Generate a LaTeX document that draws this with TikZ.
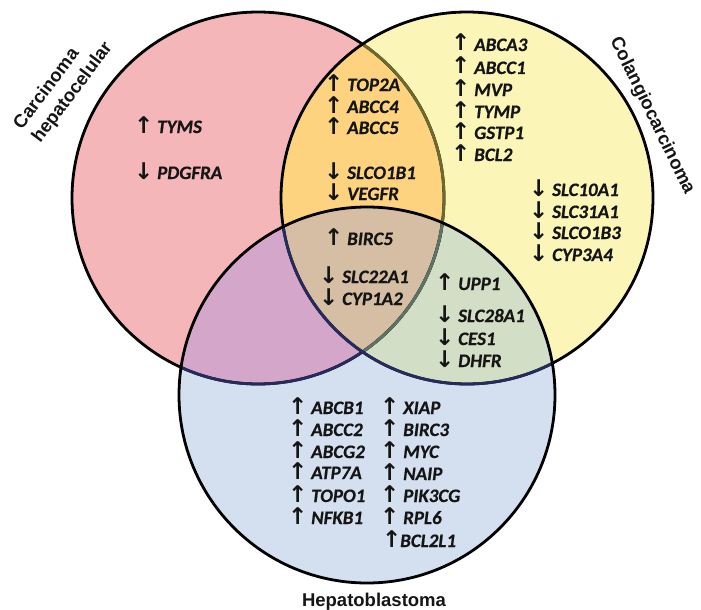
\documentclass[tikz,border=0pt]{standalone}
\usepackage{fontspec}
\setmainfont{Carlito}[BoldItalicFeatures={FakeBold=0.5}]
\newfontfamily\titlefont{Liberation Sans}
\newfontfamily\arrowfont{DejaVu Sans}

\definecolor{fillA}{HTML}{F5B6B9}
\definecolor{fillB}{HTML}{FBF5B7}
\definecolor{fillC}{HTML}{D4DFF0}
\definecolor{fillAB}{HTML}{FDD37F}
\definecolor{fillAC}{HTML}{D3A6CA}
\definecolor{fillBC}{HTML}{D3DEC6}
\definecolor{fillABC}{HTML}{D5BEA3}
\definecolor{lineOlive}{HTML}{6E6A2E}
\definecolor{lineSage}{HTML}{5F7363}
\definecolor{lineNavy}{HTML}{262B5E}
\definecolor{inkc}{HTML}{151515}

% arrow + gene name, fixed arrow column
\newcommand\arrowglyph[1]{\makebox[0pt][l]{\hspace{-4.2pt}{\arrowfont\fontsize{23}{23}\selectfont #1}}}
\newcommand\geneup[2][19pt]{\makebox[#1][l]{\arrowglyph{↑}}\textit{#2}}
\newcommand\genedn[2][19pt]{\makebox[#1][l]{\arrowglyph{↓}}\textit{#2}}

\begin{document}
\begin{tikzpicture}[x=1pt,y=-1pt,
  ring/.style={line width=2.8pt},
  gene/.style={anchor=base west, inner sep=0pt, text=inkc,
    font=\fontsize{19}{21}\selectfont\bfseries\itshape},
  setlabel/.style={inner sep=0pt, text=inkc,
    font=\titlefont\fontsize{18.5}{23}\selectfont\bfseries}]
\useasboundingbox (0,0) rectangle (701,610);

\coordinate (cA) at (258,198);
\coordinate (cB) at (467,198);
\coordinate (cC) at (367,395);

% region fills
\fill[fillA] (cA) circle[radius=186pt];
\fill[fillB] (cB) circle[radius=186pt];
\fill[fillC] (cC) circle[radius=188pt];
\begin{scope}
  \clip (cB) circle[radius=186pt];
  \fill[fillBC] (cC) circle[radius=188pt];
\end{scope}
\begin{scope}
  \clip (cA) circle[radius=186pt];
  \fill[fillAB] (cB) circle[radius=186pt];
  \fill[fillAC] (cC) circle[radius=188pt];
  \clip (cB) circle[radius=186pt];
  \fill[fillABC] (cC) circle[radius=188pt];
\end{scope}

% outlines, tinted where covered by the other sets
\draw[ring] (cA) circle[radius=186pt];
\begin{scope}
  \clip (cB) circle[radius=186pt];
  \draw[ring, lineOlive] (cA) circle[radius=186pt];
\end{scope}
\begin{scope}
  \clip (cC) circle[radius=188pt];
  \draw[ring, lineNavy] (cA) circle[radius=186pt];
\end{scope}
\begin{scope}
  \clip (cB) circle[radius=186pt];
  \clip (cC) circle[radius=188pt];
  \draw[ring, lineSage] (cA) circle[radius=186pt];
\end{scope}
\draw[ring] (cB) circle[radius=186pt];
\begin{scope}
  \clip (cC) circle[radius=188pt];
  \draw[ring, lineNavy] (cB) circle[radius=186pt];
\end{scope}
\draw[ring] (cC) circle[radius=188pt];

% set titles
\node[setlabel, rotate=53, align=left, anchor=north west] (tA) at (11,122) {Carcinoma\\hepatocelular};
\node[setlabel, rotate=-64] (tB) at (652,116) {Colangiocarcinoma};
\node[setlabel, anchor=base] (tC) at (374,606) {Hepatoblastoma};

% hepatocellular carcinoma only
\node[gene] (g01) at (138,133) {\geneup{TYMS}};
\node[gene] (g02) at (138,179) {\genedn{PDGFRA}};

% HCC and cholangiocarcinoma
\node[gene] (g03) at (328,91)  {\geneup{TOP2A}};
\node[gene] (g04) at (328,113) {\geneup{ABCC4}};
\node[gene] (g05) at (328,134) {\geneup{ABCC5}};
\node[gene] (g06) at (328,179) {\genedn{SLCO1B1}};
\node[gene] (g07) at (328,200) {\genedn{VEGFR}};

% cholangiocarcinoma only
\node[gene] (g08) at (455,51)  {\geneup{ABCA3}};
\node[gene] (g09) at (455,74)  {\geneup{ABCC1}};
\node[gene] (g10) at (455,96)  {\geneup{MVP}};
\node[gene] (g11) at (455,118) {\geneup{TYMP}};
\node[gene] (g12) at (455,139) {\geneup{GSTP1}};
\node[gene] (g13) at (455,161) {\geneup{BCL2}};
\node[gene] (g14) at (533,196) {\genedn{SLC10A1}};
\node[gene] (g15) at (533,218) {\genedn{SLC31A1}};
\node[gene] (g16) at (533,239) {\genedn{SLCO1B3}};
\node[gene] (g17) at (533,261) {\genedn{CYP3A4}};

% all three
\node[gene] (g18) at (328,245) {\geneup{BIRC5}};
\node[gene] (g19) at (323,283) {\genedn{SLC22A1}};
\node[gene] (g20) at (323,305) {\genedn{CYP1A2}};

% cholangiocarcinoma and hepatoblastoma
\node[gene] (g21) at (439,290) {\geneup{UPP1}};
\node[gene] (g22) at (439,322) {\genedn{SLC28A1}};
\node[gene] (g23) at (439,345) {\genedn{CES1}};
\node[gene] (g24) at (439,367) {\genedn{DHFR}};

% hepatoblastoma only
\node[gene] (g25) at (292,414) {\geneup{ABCB1}};
\node[gene] (g26) at (292,436) {\geneup{ABCC2}};
\node[gene] (g27) at (292,458) {\geneup{ABCG2}};
\node[gene] (g28) at (292,479) {\geneup{ATP7A}};
\node[gene] (g29) at (292,502) {\geneup{TOPO1}};
\node[gene] (g30) at (292,524) {\geneup{NFKB1}};
\node[gene] (g31) at (384,414) {\geneup{XIAP}};
\node[gene] (g32) at (384,436) {\geneup{BIRC3}};
\node[gene] (g33) at (384,458) {\geneup{MYC}};
\node[gene] (g34) at (384,480) {\geneup{NAIP}};
\node[gene] (g35) at (384,502) {\geneup{PIK3CG}};
\node[gene] (g36) at (384,524) {\geneup{RPL6}};
\node[gene] (g37) at (386,547) {\geneup[14pt]{BCL2L1}};
\end{tikzpicture}
\end{document}
